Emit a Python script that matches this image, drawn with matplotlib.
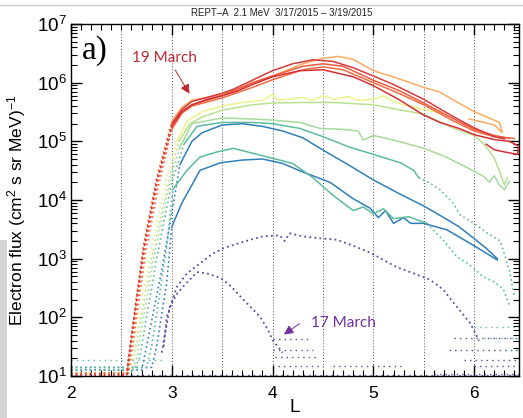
import matplotlib
matplotlib.use("Agg")
import matplotlib.pyplot as plt
from matplotlib.ticker import LogLocator, MultipleLocator, NullFormatter
from matplotlib.patches import Rectangle
from matplotlib.lines import Line2D

plt.rcParams['font.family'] = ['Liberation Sans', 'DejaVu Sans']
plt.rcParams['mathtext.fontset'] = 'custom'
plt.rcParams['mathtext.rm'] = 'Liberation Sans'
plt.rcParams['mathtext.it'] = 'Liberation Sans:italic'

# ---- data (L, electron flux) ----
purple_up_L = [2.92, 2.95, 3.05, 3.15, 3.28, 3.4, 3.51, 3.65, 3.78, 3.9, 4.07, 4.12, 4.17, 4.3, 4.5,
               4.64, 4.8, 4.97, 5.1, 5.23, 5.4, 5.56, 5.69, 5.83, 5.96, 6.05]
purple_up_F = [32, 100, 330, 560, 830, 1.2e3, 1.5e3, 1.8e3, 2.1e3, 2.4e3, 2.5e3, 2.0e3, 2.7e3, 2.4e3, 2.2e3,
               2.1e3, 1.66e3, 1.26e3, 950, 720, 560, 440, 300, 150, 80, 40]
purple_lo_L = [2.9, 2.98, 3.05, 3.11, 3.25, 3.35, 3.45, 3.51, 3.6, 3.71, 3.8, 3.88, 3.95, 4.0, 4.05, 4.1]
purple_lo_F = [25, 150, 250, 330, 590, 560, 490, 440, 320, 200, 140, 100, 63, 41, 32, 25]

blue_lo_L = [2.0, 2.8, 2.85, 2.95, 3.0, 3.1, 3.28, 3.48, 3.7, 3.9, 4.1, 4.3, 4.57, 4.8, 4.97, 5.05,
             5.12, 5.2, 5.3, 5.37, 5.5, 5.73, 6.0, 6.23]
blue_lo_F = [14, 14, 32, 400, 3.5e3, 8.9e3, 3.2e4, 4.3e4, 4.8e4, 5.0e4, 4.2e4, 3.0e4, 2.0e4, 1.05e4, 7.2e3, 5.0e3,
             6.6e3, 4.0e3, 5.0e3, 4.0e3, 4.0e3, 3.1e3, 1.66e3, 950]

teal_lo_L = [2.0, 2.75, 2.8, 2.95, 3.01, 3.15, 3.28, 3.45, 3.61, 3.88, 4.2, 4.4, 4.6, 4.8, 4.9, 5.0,
             5.1, 5.2, 5.35, 5.53, 5.7, 5.83, 5.95, 6.09, 6.2, 6.29, 6.35]
teal_lo_F = [14, 14, 32, 1.6e3, 1.5e4, 3.2e4, 5.4e4, 6.6e4, 7.6e4, 5.8e4, 4.2e4, 2.4e4, 1.2e4, 6.6e3, 7.6e3, 5.8e3,
             7.1e3, 4.8e3, 5.2e3, 4.0e3, 2.0e3, 1.07e3, 800, 490, 400, 300, 160]

blue_up_L = [2.0, 2.7, 2.75, 2.9, 3.0, 3.08, 3.2, 3.3, 3.5, 3.7, 3.9, 4.1, 4.3, 4.5, 4.75, 5.0,
             5.25, 5.5, 5.7, 5.85, 6.0, 6.12, 6.23]
blue_up_F = [12.6, 12.6, 32, 630, 6.0e3, 4.0e4, 1.0e5, 1.4e5, 1.9e5, 2.0e5, 1.8e5, 1.5e5, 1.15e5, 7.1e4, 4.0e4, 2.2e4,
             1.3e4, 7.9e3, 5.0e3, 3.5e3, 2.2e3, 1.5e3, 1.0e3]

teal_up_L = [2.0, 2.62, 2.68, 2.85, 3.0, 3.12, 3.25, 3.5, 3.8, 4.0, 4.27, 4.5, 4.77, 5.0, 5.27, 5.4,
             5.45, 5.55, 5.66, 5.79, 5.86, 6.0, 6.12, 6.26, 6.35, 6.4]
teal_up_F = [12.6, 12.6, 20, 1.0e3, 2.0e4, 8.9e4, 1.8e5, 2.1e5, 2.1e5, 2.0e5, 1.66e5, 1.2e5, 7.9e4, 6.0e4, 4.3e4, 3.2e4,
             2.4e4, 2.0e4, 1.5e4, 8.9e3, 5.6e3, 4.0e3, 2.8e3, 2.0e3, 630, 220]

green_L = [2.0, 2.6, 2.65, 2.82, 2.98, 3.08, 3.2, 3.5, 3.8, 4.0, 4.27, 4.47, 4.7, 4.85, 4.9, 5.0,
           5.25, 5.5, 5.7, 5.9, 6.03, 6.1, 6.15, 6.2, 6.25, 6.3, 6.35]
green_F = [11.2, 11.2, 20, 1.0e3, 2.0e4, 7.9e4, 2.0e5, 2.5e5, 2.4e5, 2.3e5, 2.1e5, 1.66e5, 1.6e5, 1.5e5, 1.05e5, 1.26e5,
           1.0e5, 7.6e4, 5.6e4, 3.8e4, 2.9e4, 2.5e4, 2.0e4, 2.6e4, 1.8e4, 1.5e4, 2.1e4]

lgreen_L = [2.0, 2.55, 2.63, 2.8, 2.97, 3.07, 3.18, 3.3, 3.5, 3.8, 4.0, 4.3, 4.6, 5.0, 5.2, 5.5,
            5.8, 6.0, 6.1, 6.2, 6.26, 6.3, 6.33]
lgreen_F = [11, 11, 22, 1.0e3, 2.2e4, 1.0e5, 2.0e5, 2.6e5, 3.4e5, 4.2e5, 4.5e5, 4.6e5, 4.6e5, 4.2e5, 3.6e5, 2.9e5,
            1.66e5, 1.26e5, 8.9e4, 5.2e4, 2.8e4, 1.8e4, 2.4e4]

yellow_L = [2.0, 2.55, 2.62, 2.78, 2.95, 3.05, 3.15, 3.3, 3.5, 3.7, 3.9, 4.0, 4.05, 4.15, 4.3, 4.4,
            4.5, 4.6, 4.75, 4.85, 5.0, 5.1, 5.2, 5.3, 5.5, 5.72]
yellow_F = [11.2, 11.2, 25, 1.1e3, 2.5e4, 1.0e5, 2.2e5, 3.2e5, 4.0e5, 4.6e5, 5.0e5, 6.3e5, 5.0e5, 5.2e5, 5.6e5, 5.0e5,
            6.0e5, 5.2e5, 5.8e5, 5.0e5, 5.2e5, 6.0e5, 4.8e5, 4.2e5, 3.5e5, 2.9e5]

orange_L = [2.0, 2.56, 2.6, 2.72, 2.85, 3.0, 3.1, 3.2, 3.5, 3.8, 4.0, 4.3, 4.5, 4.65, 4.8, 5.0,
            5.25, 5.5, 5.66, 5.8, 6.0, 6.15, 6.25, 6.28, 6.2, 6.05, 5.95]
orange_F = [11.2, 11.2, 50, 1.8e3, 2.5e4, 2.2e5, 3.8e5, 5.0e5, 6.3e5, 9.5e5, 1.3e6, 2.1e6, 2.6e6, 2.8e6, 2.5e6, 1.6e6,
            1.17e6, 8.3e5, 6.9e5, 5.0e5, 3.2e5, 2.5e5, 2.1e5, 1.4e5, 1.9e5, 2.2e5, 2.4e5]

ored2_L = [2.0, 2.57, 2.62, 2.74, 2.87, 3.0, 3.1, 3.2, 3.5, 3.8, 4.0, 4.3, 4.5, 4.7, 5.0, 5.25,
           5.5, 5.8, 6.0, 6.2, 6.4]
ored2_F = [11.2, 11.2, 40, 1.26e3, 1.8e4, 1.6e5, 3.0e5, 4.0e5, 5.5e5, 8.3e5, 1.12e6, 1.66e6, 1.86e6, 1.66e6, 1.0e6, 6.6e5,
           4.2e5, 2.2e5, 1.5e5, 1.2e5, 1.12e5]

ored1_L = [2.0, 2.56, 2.61, 2.73, 2.86, 3.0, 3.1, 3.2, 3.5, 3.8, 4.0, 4.3, 4.5, 4.7, 5.0, 5.25,
           5.5, 5.8, 6.0, 6.2, 6.35]
ored1_F = [10.7, 10.7, 45, 1.4e3, 2.0e4, 1.8e5, 3.2e5, 4.2e5, 6.0e5, 1.0e6, 1.3e6, 1.9e6, 2.1e6, 1.9e6, 1.1e6, 7.4e5,
           4.5e5, 2.4e5, 1.6e5, 1.26e5, 1.12e5]

red_lo_L = [2.0, 2.55, 2.6, 2.72, 2.85, 3.0, 3.1, 3.2, 3.35, 3.5, 3.65, 3.8, 4.0, 4.27, 4.5, 4.8,
            5.0, 5.25, 5.5, 5.66, 5.85, 6.0, 6.2, 6.35, 6.44, 6.43, 6.3, 6.2, 6.12]
red_lo_F = [10, 10, 45, 1.4e3, 2.0e4, 1.8e5, 3.2e5, 4.2e5, 5.2e5, 6.0e5, 7.2e5, 9.3e5, 1.26e6, 1.6e6, 1.66e6, 1.26e6,
            8.9e5, 5.2e5, 2.8e5, 2.1e5, 1.66e5, 1.3e5, 1.07e5, 1.0e5, 8.3e4, 6.0e4, 6.6e4, 7.2e4, 8.9e4]

red_top_L = [2.0, 2.55, 2.6, 2.72, 2.85, 3.0, 3.1, 3.2, 3.35, 3.5, 3.6, 3.8, 4.0, 4.2, 4.4, 4.6,
             4.8, 5.0, 5.2, 5.5, 5.8, 6.0, 6.2, 6.3]
red_top_F = [10.5, 10.5, 50, 1.6e3, 2.2e4, 2.0e5, 3.5e5, 4.8e5, 5.6e5, 6.6e5, 7.6e5, 1.1e6, 1.6e6, 2.1e6, 2.45e6, 2.3e6,
             1.8e6, 1.3e6, 9.3e5, 5.2e5, 2.6e5, 1.7e5, 1.2e5, 1.1e5]

# low-count floor (start L, end L, flux level)
floor_purple = [(4.0, 4.35, 42), (4.0, 4.4, 28), (4.02, 4.45, 21), (4.05, 4.5, 15), (4.6, 5.3, 15),
                (5.8, 6.45, 45), (5.75, 6.45, 28), (5.9, 6.45, 19), (6.0, 6.45, 15), (5.6, 6.45, 11),
                (2.6, 6.45, 10.3)]
floor_teal = [(6.0, 6.45, 68), (6.1, 6.45, 45), (6.2, 6.45, 28), (2.0, 2.9, 19)]

grid_L = [2.5, 3.0, 3.5, 4.0, 4.5, 5.0, 5.5, 6.0]

# ---- figure ----
fig = plt.figure(figsize=(5.23, 4.18), dpi=100)
ax = fig.add_axes([71 / 523, 42 / 418, 448 / 523, 352 / 418])
ax.set_yscale('log')
ax.set_xlim(2, 6.445)
ax.set_ylim(10, 1e7)

for g in grid_L:
    ax.axvline(g, color='#555555', lw=0.7, ls=(0, (1, 2)), zorder=1)

dots = (0, (1, 1.8))
sparse = (0, (1, 3))


def draw(L, F, color, solid_from=None, solid_to=None, lw=1.1):
    n = len(L)
    i0 = 0
    if solid_from is not None:
        i0 = next(i for i in range(n) if L[i] >= solid_from)
    i1 = n - 1
    if solid_to is not None:
        i1 = next(i for i in range(n) if L[i] >= solid_to)
    if i0 > 0:
        ax.plot(L[:i0 + 1], F[:i0 + 1], color=color, lw=1.2, ls=dots, zorder=2)
    ax.plot(L[i0:i1 + 1], F[i0:i1 + 1], color=color, lw=lw, zorder=3)
    if i1 < n - 1:
        ax.plot(L[i1:], F[i1:], color=color, lw=1.2, ls=dots, zorder=2)


purple = '#5b4a9e'
blue = '#2f7fb9'
teal = '#5dbb9f'

for a, b, f in floor_purple:
    ax.plot([a, b], [f, f], color=purple, lw=1.0, ls=sparse, zorder=2)
for a, b, f in floor_teal:
    ax.plot([a, b], [f, f], color=teal, lw=1.0, ls=sparse, zorder=2)

ax.plot(purple_up_L, purple_up_F, color=purple, lw=1.3, ls=dots, zorder=2)
ax.plot(purple_lo_L, purple_lo_F, color=purple, lw=1.3, ls=dots, zorder=2)

draw(blue_lo_L, blue_lo_F, blue, 3.0)
draw(teal_lo_L, teal_lo_F, teal, 3.01, 5.53)
draw(blue_up_L, blue_up_F, blue, 3.08)
draw(teal_up_L, teal_up_F, teal, 3.12, 5.45)
draw(green_L, green_F, '#a6d99a', 3.08)
draw(lgreen_L, lgreen_F, '#b9e08e', 3.07)
draw(yellow_L, yellow_F, '#ecf38a', 3.05)
draw(orange_L, orange_F, '#fcac5f', 3.0)
draw(ored2_L, ored2_F, '#f36b40', 3.0)
draw(ored1_L, ored1_F, '#ef5a3c', 3.0)
draw(red_lo_L, red_lo_F, '#d62f35', 3.0)
draw(red_top_L, red_top_F, '#d83a3c', 3.0)

# ---- axes styling ----
ax.xaxis.set_major_locator(MultipleLocator(1))
ax.xaxis.set_minor_locator(MultipleLocator(0.1))
ax.yaxis.set_major_locator(LogLocator(base=10, numticks=10))
ax.yaxis.set_minor_locator(LogLocator(base=10, subs=range(2, 10), numticks=20))
ax.yaxis.set_minor_formatter(NullFormatter())
ax.tick_params(which='both', direction='in', top=True, right=True, colors='black')
ax.tick_params(which='major', length=8, width=1.0)
ax.tick_params(which='minor', length=4, width=0.8)
ax.tick_params(axis='x', labelsize=12.5, pad=7)
ax.tick_params(axis='y', labelsize=13.5, pad=3)
for s in ax.spines.values():
    s.set_linewidth(1.0)

ax.set_xlabel('L', fontsize=13.5, labelpad=-1)
ax.set_ylabel('Electron flux (cm$^2$ s sr MeV)$^{-1}$', fontsize=12.5, labelpad=2)
ax.yaxis.set_label_coords(-0.097, 0.47)

fig.text(282 / 523, 1 - 13 / 418, 'REPT\u2013A  2.1 MeV  3/17/2015 \u2013 3/19/2015',
         fontsize=7, ha='center', va='center', color='#222222')

ax.text(2.11, 3.5e6, 'a)', fontsize=24, family=['Liberation Serif', 'DejaVu Serif'],
        ha='left', va='center')

ax.text(2.93, 2.6e6, '19 March', fontsize=11, family=['Lato', 'DejaVu Sans'],
        color='#c0282d', ha='center', va='center')
ax.annotate('', xy=(3.19, 5.9e5), xytext=(3.02, 1.8e6),
            arrowprops=dict(arrowstyle='-|>', color='#c0282d', lw=0.7, mutation_scale=14))

ax.text(4.70, 80, '17 March', fontsize=11, family=['Lato', 'DejaVu Sans'],
        color='#7030a0', ha='center', va='center')
ax.annotate('', xy=(4.09, 48), xytext=(4.29, 83),
            arrowprops=dict(arrowstyle='-|>', color='#7030a0', lw=0.7, mutation_scale=14))

# page decorations of the clipped figure
fig.add_artist(Line2D([0, 1], [1 - 5 / 418, 1 - 5 / 418], color='#cccccc', lw=1.0, zorder=-1))
fig.add_artist(Rectangle((0, 0), 7 / 523, 178 / 418, facecolor='#d4d4d4', edgecolor='none', zorder=-1))

fig.savefig('out.png', dpi=100)
